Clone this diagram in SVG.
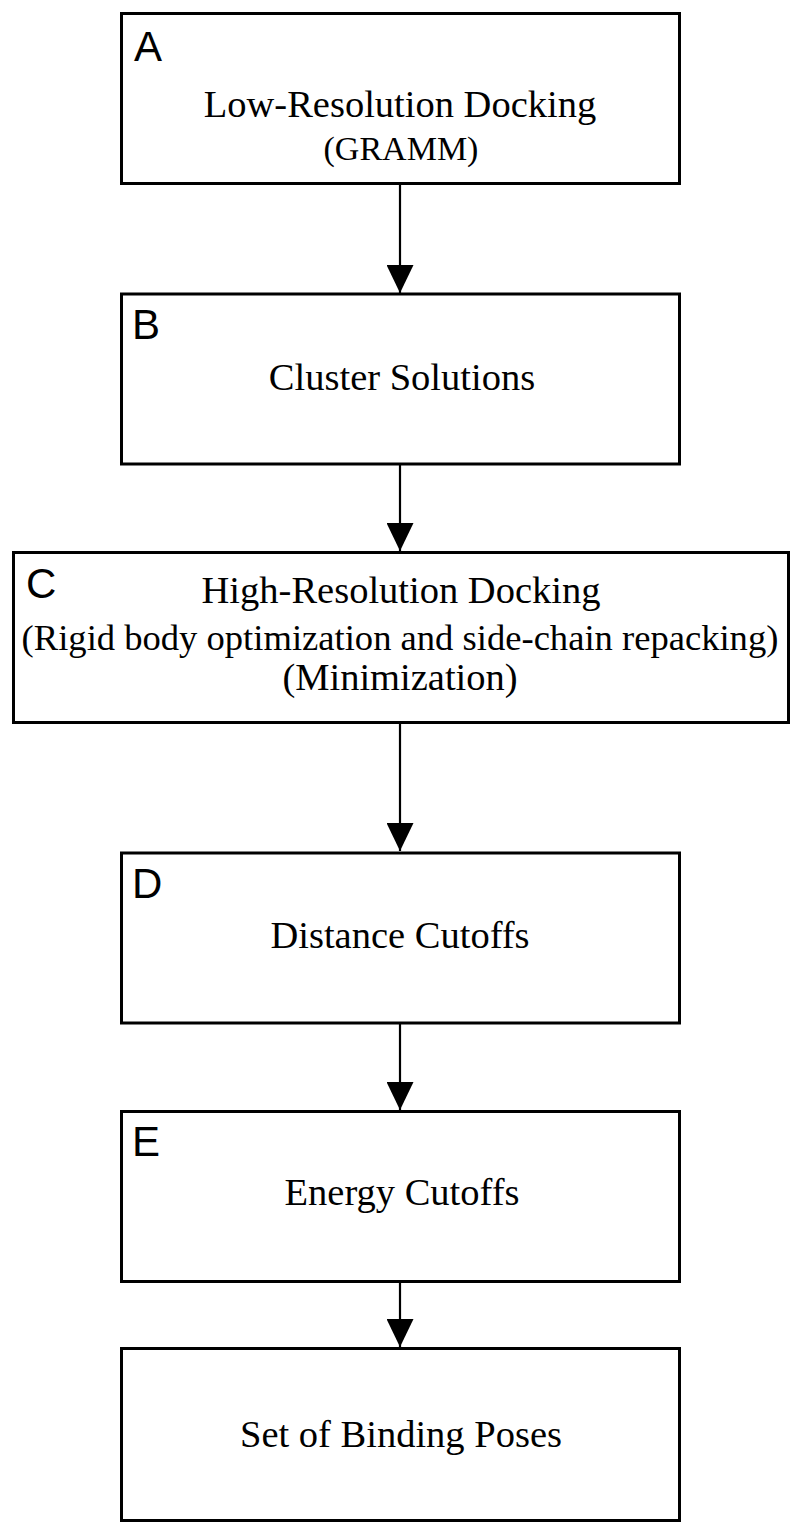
<svg xmlns="http://www.w3.org/2000/svg" width="800" height="1535" viewBox="0 0 800 1535">
<defs>
<style>
.box{fill:#fff;stroke:#000;stroke-width:3}
.lbl{font-family:"Liberation Sans",Arial,sans-serif;font-size:42px;fill:#000}
.t{font-family:"Liberation Serif","Times New Roman",serif;font-size:38.5px;fill:#000;text-anchor:middle}
.s{font-family:"Liberation Serif","Times New Roman",serif;font-size:34px;fill:#000;text-anchor:middle}
.c{stroke:#000;stroke-width:2.2;fill:none}
</style>
<marker id="ah" markerWidth="27" markerHeight="28" refX="13.5" refY="28" orient="0" markerUnits="userSpaceOnUse" viewBox="0 0 27 28">
<path d="M0,0 L27,0 L13.5,28 Z" fill="#000"/>
</marker>
</defs>
<rect width="800" height="1535" fill="#fff"/>
<g id="connectors">
<line class="c" x1="400" y1="184" x2="400" y2="293" marker-end="url(#ah)"/>
<line class="c" x1="400" y1="464" x2="400" y2="551" marker-end="url(#ah)"/>
<line class="c" x1="400" y1="723" x2="400" y2="851" marker-end="url(#ah)"/>
<line class="c" x1="400" y1="1024" x2="400" y2="1110" marker-end="url(#ah)"/>
<line class="c" x1="400" y1="1282" x2="400" y2="1347" marker-end="url(#ah)"/>
</g>
<g id="nodeA">
<rect class="box" x="121.5" y="13.5" width="558" height="170"/>
<text class="lbl" x="134" y="61">A</text>
<text class="t" x="400" y="117">Low-Resolution Docking</text>
<text class="s" x="401" y="160">(GRAMM)</text>
</g>
<g id="nodeB">
<rect class="box" x="121.5" y="294" width="558" height="170"/>
<text class="lbl" x="132" y="339">B</text>
<text class="t" x="402" y="390">Cluster Solutions</text>
</g>
<g id="nodeC">
<rect class="box" x="13.5" y="552.5" width="775" height="170"/>
<text class="lbl" x="26" y="598">C</text>
<text class="t" x="401" y="603">High-Resolution Docking</text>
<text class="t" x="400" y="650" style="font-size:36.6px">(Rigid body optimization and side-chain repacking)</text>
<text class="t" x="400" y="690">(Minimization)</text>
</g>
<g id="nodeD">
<rect class="box" x="121.5" y="853" width="558" height="170"/>
<text class="lbl" x="132" y="898">D</text>
<text class="t" x="400" y="948">Distance Cutoffs</text>
</g>
<g id="nodeE">
<rect class="box" x="121.5" y="1111.5" width="558" height="170"/>
<text class="lbl" x="132" y="1156">E</text>
<text class="t" x="402" y="1205">Energy Cutoffs</text>
</g>
<g id="nodeF">
<rect class="box" x="121.5" y="1348.5" width="558" height="172"/>
<text class="t" x="401" y="1447">Set of Binding Poses</text>
</g>
</svg>
